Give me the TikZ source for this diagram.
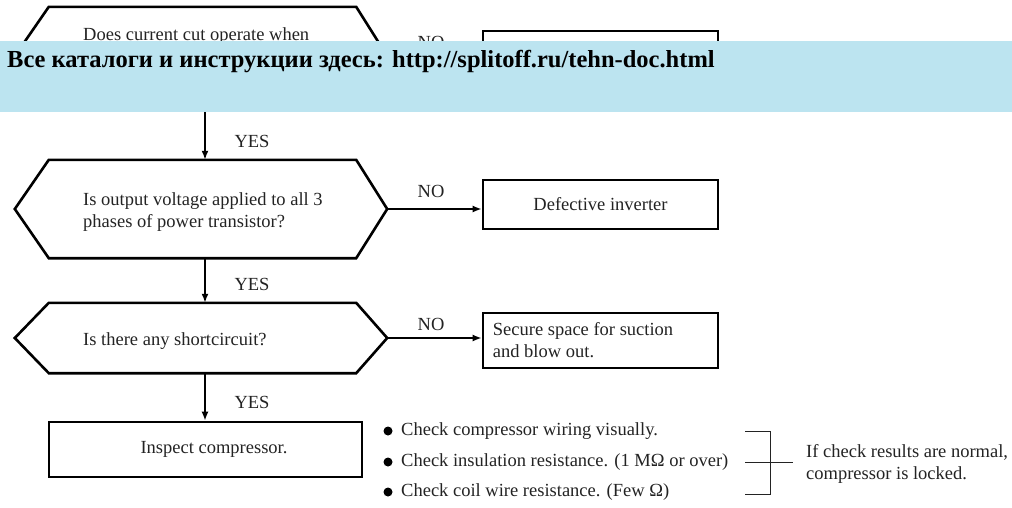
\documentclass[tikz,border=0pt]{standalone}
\usepackage{fontspec}
\setmainfont{Liberation Serif}
\usetikzlibrary{arrows.meta}
\definecolor{bannerblue}{RGB}{188,228,240}
\definecolor{txtgray}{RGB}{35,35,35}
\tikzset{
  shapeline/.style={line width=2.6pt, line join=miter},
  boxnode/.style={draw, line width=2.6pt, minimum width=235pt, inner sep=0pt},
  flow/.style={line width=2pt, -{Latex[length=9pt,width=7pt]}},
  lbl/.style={font=\fontsize{18.5}{22}\selectfont, text=txtgray, inner sep=0pt},
  body/.style={font=\fontsize{18.5}{22}\selectfont, text=txtgray, inner sep=0pt, align=left},
  hexarea/.style={minimum width=372pt, inner sep=0pt},
  thin/.style={line width=1pt, draw=txtgray},
  bulletdot/.style={circle, fill=black, inner sep=0pt, minimum size=9pt}
}
\begin{document}
\begin{tikzpicture}[x=1pt,y=-1pt]
\useasboundingbox (0,0) rectangle (1012,507);

% hexagon 1
\node[hexarea, minimum height=98pt] (h1) at (201,56) {};
\draw[shapeline] (h1.west) -- ([xshift=34pt]h1.north west) -- ([xshift=-31pt]h1.north east) -- (h1.east) -- ([xshift=-31pt]h1.south east) -- ([xshift=34pt]h1.south west) -- cycle;
\node[boxnode, minimum height=50pt] (b1) at (600.5,56) {};
\draw[flow] (h1.east) -- (b1.west);
\begin{scope}
\clip (0,0) rectangle (1012,41);
\node[body, anchor=base west] (t1) at (83,40) {Does current cut operate when};
\node[lbl, anchor=base] (n1) at (431,48) {NO};
\end{scope}

% hexagon 2
\node[hexarea, minimum height=98pt] (h2) at (201,209) {};
\draw[shapeline] (h2.west) -- ([xshift=34pt]h2.north west) -- ([xshift=-31pt]h2.north east) -- (h2.east) -- ([xshift=-31pt]h2.south east) -- ([xshift=34pt]h2.south west) -- cycle;
\node[body, anchor=west] (t2) at (83,212) {Is output voltage applied to all 3\\phases of power transistor?};
\node[boxnode, minimum height=49pt] (b2) at (600.5,204.5) {};
\node[lbl] (t2b) at (b2.center) {Defective inverter};
\node[lbl, anchor=base] (n2) at (431,197) {NO};
\draw[flow] (h2.east) -- (b2.west |- h2.east);
\draw[flow] ([xshift=4pt]h1.south) -- ([xshift=4pt]h2.north);
\node[lbl, anchor=base] (y1) at (252,147) {YES};

% hexagon 3
\node[hexarea, minimum height=70pt] (h3) at (201,338) {};
\draw[shapeline] (h3.west) -- ([xshift=34pt]h3.north west) -- ([xshift=-31pt]h3.north east) -- (h3.east) -- ([xshift=-31pt]h3.south east) -- ([xshift=34pt]h3.south west) -- cycle;
\node[body, anchor=west] (t3) at (83,341) {Is there any shortcircuit?};
\node[boxnode, minimum height=55pt] (b3) at (600.5,340.5) {};
\node[body, anchor=west] (t3b) at ([xshift=11pt]b3.west) {Secure space for suction\\and blow out.};
\node[lbl, anchor=base] (n3) at (431,330) {NO};
\draw[flow] (h3.east) -- (b3.west |- h3.east);
\draw[flow] ([xshift=4pt]h2.south) -- ([xshift=4pt]h3.north);
\node[lbl, anchor=base] (y2) at (252,290) {YES};

% inspect box
\node[draw, line width=2.6pt, minimum width=313pt, minimum height=55pt, inner sep=0pt] (b4) at (205.5,449.5) {};
\node[lbl] (t4) at (214,449) {Inspect compressor.};
\draw[flow] ([xshift=4pt]h3.south) -- ([xshift=4pt]h3.south |- b4.north);
\node[lbl, anchor=base] (y3) at (252,408) {YES};

% bullets
\node[bulletdot] (d1) at (388,431) {};
\node[bulletdot] (d2) at (388,462) {};
\node[bulletdot] (d3) at (388,492) {};
\node[lbl, anchor=west] (c1) at (401,431) {Check compressor wiring visually.};
\node[lbl, anchor=west] (c2) at (401,462) {Check insulation resistance. (1 MΩ or over)};
\node[lbl, anchor=west] (c3) at (401,492) {Check coil wire resistance. (Few Ω)};

% bracket
\coordinate (k1) at (745,431);
\coordinate (k1r) at (770,431);
\coordinate (k3) at (745,494);
\coordinate (k3r) at (770,494);
\coordinate (k2) at (745,462);
\coordinate (k2r) at (793,462);
\draw[thin] (k1) -- (k1r) -- (k3r) -- (k3);
\draw[thin] (k2) -- (k2r);
\node[body, anchor=west] (r1) at (806,464) {If check results are normal,\\compressor is locked.};

% banner
\fill[bannerblue] (0,41) rectangle (1012,112);
\node[anchor=base west, inner sep=0pt, font=\fontsize{24.5}{28}\selectfont\bfseries] (ban) at (7,67) {Все каталоги и инструкции здесь: http://splitoff.ru/tehn-doc.html};
\end{tikzpicture}
\end{document}
